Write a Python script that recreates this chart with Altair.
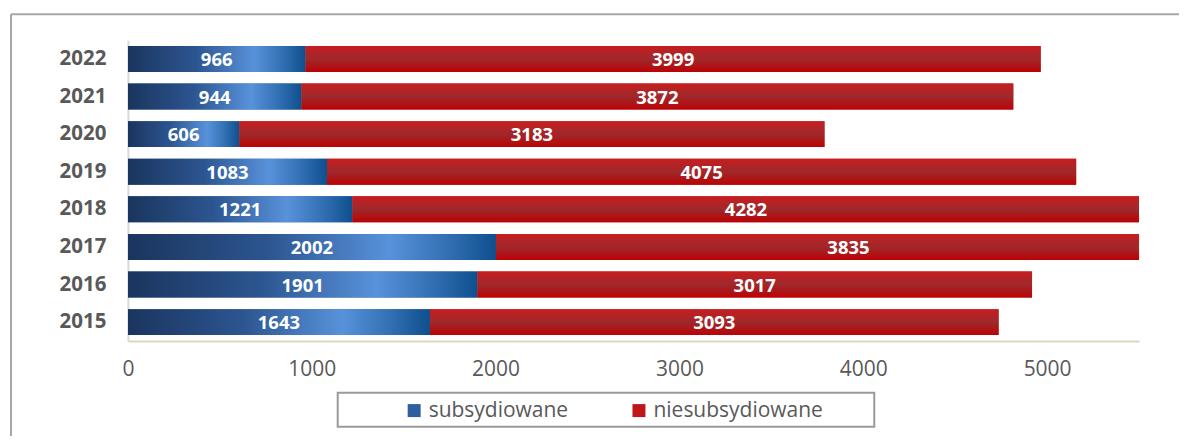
import altair as alt
import pandas as pd

years = [2015, 2016, 2017, 2018, 2019, 2020, 2021, 2022]
subsydiowane = [1643, 1901, 2002, 1221, 1083, 606, 944, 966]
niesubsydiowane = [3093, 3017, 3835, 4282, 4075, 3183, 3872, 3999]
series_names = ["subsydiowane", "niesubsydiowane"]
x_ticks = [0, 1000, 2000, 3000, 4000, 5000]

rows = []
for y, s, n in zip(years, subsydiowane, niesubsydiowane):
    rows.append({"year": str(y), "series": series_names[0], "start": 0, "end": s, "value": s})
    rows.append({"year": str(y), "series": series_names[1], "start": s, "end": s + n, "value": n})
df = pd.DataFrame(rows)
df["mid"] = (df["start"] + df["end"]) / 2

FONT = "Open Sans"
GREY = "#595959"

xscale = alt.Scale(domain=[0, 5500], nice=False, zero=True)
yscale = alt.Scale(paddingInner=0.31, paddingOuter=0.155)

x_enc = alt.X(
    "start:Q",
    scale=xscale,
    axis=alt.Axis(
        values=x_ticks, title=None, grid=False, ticks=False, labelFont=FONT,
        labelFontSize=21, labelColor=GREY, labelPadding=18, domainColor="#dcd6c2",
        domainWidth=2, format="d", labelFlush=False,
    ),
)
y_enc = alt.Y(
    "year:O",
    sort="descending",
    scale=yscale,
    axis=alt.Axis(
        title=None, ticks=False, labelFont=FONT, labelFontSize=20.5, labelFontWeight="bold",
        labelColor=GREY, labelPadding=22, domainColor="#d9d9d9", domainWidth=2,
    ),
)

base = alt.Chart(df)

legend_layer = base.mark_bar(clip=True).encode(
    x=x_enc,
    x2="end:Q",
    y=y_enc,
    color=alt.Color(
        "series:N",
        scale=alt.Scale(domain=series_names, range=["#2f5f9e", "#c0161b"]),
        legend=alt.Legend(
            orient="none", legendX=276, legendY=360, direction="horizontal",
            title=None, symbolType="square", symbolSize=169, symbolStrokeWidth=0,
            labelFont=FONT, labelFontSize=21, labelColor=GREY, labelLimit=0,
            columnPadding=60, labelOffset=4,
        ),
    ),
)

blue_grad = alt.LinearGradient(
    gradient="linear",
    stops=[
        alt.GradientStop(color="#1a355e", offset=0),
        alt.GradientStop(color="#2c5590", offset=0.38),
        alt.GradientStop(color="#5892db", offset=0.71),
        alt.GradientStop(color="#2f6db0", offset=0.88),
        alt.GradientStop(color="#0e4f8e", offset=1),
    ],
    x1=0, x2=1, y1=0, y2=0,
)
red_grad = alt.LinearGradient(
    gradient="linear",
    stops=[
        alt.GradientStop(color="#c81d1f", offset=0),
        alt.GradientStop(color="#9e292c", offset=0.5),
        alt.GradientStop(color="#bc0204", offset=1),
    ],
    x1=0, x2=0, y1=0, y2=1,
)

blue_layer = base.transform_filter(alt.datum.series == series_names[0]).mark_bar(
    clip=True, color=blue_grad
).encode(x=alt.X("start:Q", scale=xscale), x2="end:Q", y=alt.Y("year:O", sort="descending", scale=yscale))

red_layer = base.transform_filter(alt.datum.series == series_names[1]).mark_bar(
    clip=True, color=red_grad
).encode(x=alt.X("start:Q", scale=xscale), x2="end:Q", y=alt.Y("year:O", sort="descending", scale=yscale))

labels = base.mark_text(
    color="white", font=FONT, fontSize=18.5, fontWeight="bold", align="center", baseline="middle", dy=1
).encode(
    x=alt.X("mid:Q", scale=xscale),
    y=alt.Y("year:O", sort="descending", scale=yscale),
    text=alt.Text("value:Q", format="d"),
)

deco = alt.Chart(pd.DataFrame({"k": [0]}))
frame_top = deco.mark_rule(color="#a6a6a6", strokeWidth=2).encode(
    x=alt.value(-117), x2=alt.value(1100), y=alt.value(-26)
)
frame_left = deco.mark_rule(color="#a6a6a6", strokeWidth=2).encode(
    x=alt.value(-117), y=alt.value(-26), y2=alt.value(500)
)
legend_box = deco.mark_rect(fill="white", stroke="#9a9a9a", strokeWidth=2).encode(
    x=alt.value(210), x2=alt.value(747), y=alt.value(353), y2=alt.value(387)
)

chart = alt.layer(
    frame_top, frame_left, legend_box, legend_layer, blue_layer, red_layer, labels
).properties(
    width=1012,
    height=301,
    background="white",
    autosize=alt.AutoSizeParams(type="none"),
    padding={"left": 120, "top": 32, "right": 40, "bottom": 95},
).configure_view(strokeWidth=0, stroke="transparent")

chart.save("out.html", embed_options={"renderer": "svg", "actions": False})
